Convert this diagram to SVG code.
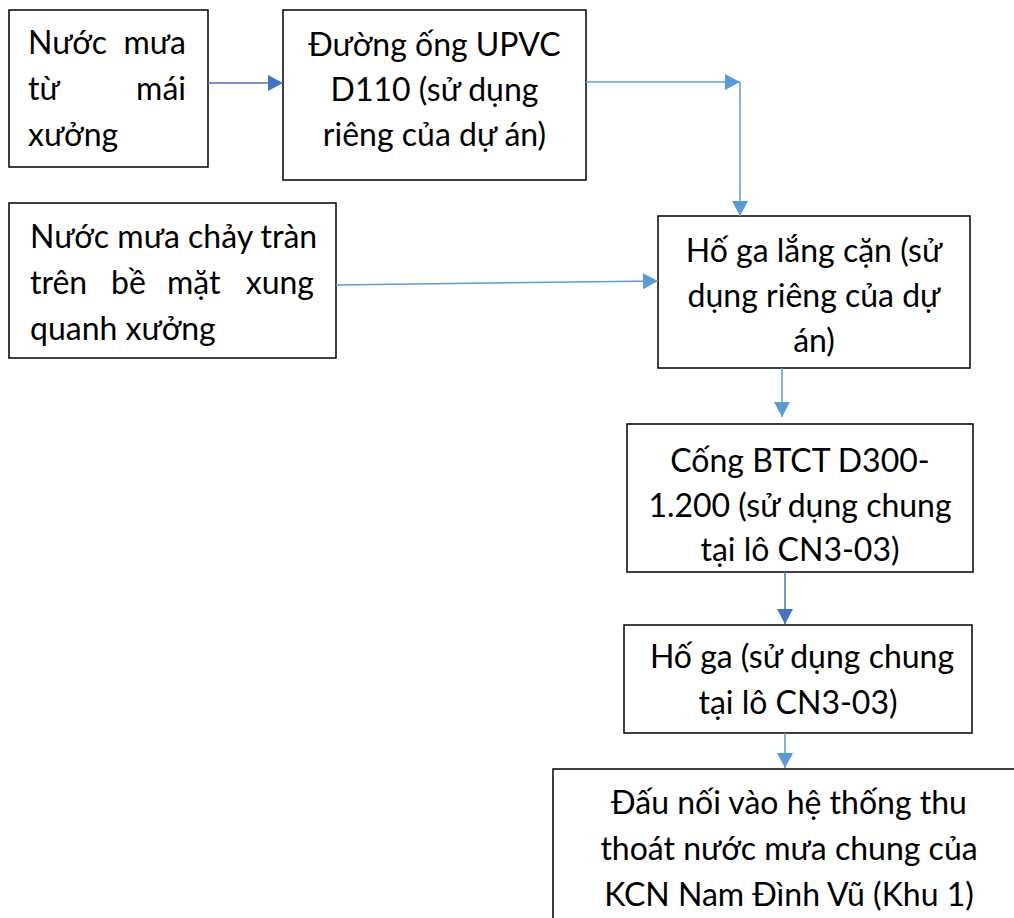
<svg xmlns="http://www.w3.org/2000/svg" width="1014" height="918" viewBox="0 0 1014 918">
<defs>
<marker id="ad" markerUnits="userSpaceOnUse" markerWidth="16" markerHeight="16" refX="15" refY="8" orient="auto"><path d="M0,0 L15,8 L0,16 z" fill="#4472C4"/></marker>
<marker id="al" markerUnits="userSpaceOnUse" markerWidth="16" markerHeight="16" refX="15" refY="8" orient="auto"><path d="M0,0 L15,8 L0,16 z" fill="#5B9BD5"/></marker>
</defs>
<style>
rect{fill:#fff;stroke:#000;stroke-width:1.5}
text{font-family:Lato,"Liberation Sans",sans-serif;font-size:32px;fill:#000}
.c{text-anchor:middle}
.e{text-anchor:end}
.d{stroke:#4472C4;stroke-width:1.5;fill:none}
.l{stroke:#5B9BD5;stroke-width:1.5;fill:none}
</style>
<rect width="1014" height="918" style="fill:#fff;stroke:none"/>
<g id="n1">
<rect x="9" y="10" width="199" height="157"/>
<text x="28" y="54">Nước</text><text x="186" y="54" class="e">mưa</text>
<text x="28" y="100">từ</text><text x="186" y="100" class="e">mái</text>
<text x="28" y="146">xưởng</text>
</g>
<g id="n2">
<rect x="283" y="10" width="303" height="170"/>
<text x="434.5" y="56" class="c">Đường ống UPVC</text>
<text x="434.5" y="101" class="c">D110 (sử dụng</text>
<text x="434.5" y="146" class="c">riêng của dự án)</text>
</g>
<g id="n3">
<rect x="9" y="203" width="327" height="155"/>
<text x="30" y="248">Nước mưa chảy tràn</text>
<text x="30" y="294">trên</text><text x="111" y="294">bề</text><text x="167" y="294">mặt</text><text x="314" y="294" class="e">xung</text>
<text x="30" y="340">quanh xưởng</text>
</g>
<g id="n4">
<rect x="658" y="216" width="312" height="152"/>
<text x="814" y="262" class="c">Hố ga lắng cặn (sử</text>
<text x="814" y="307" class="c">dụng riêng của dự</text>
<text x="814" y="352" class="c">án)</text>
</g>
<g id="n5">
<rect x="627" y="424" width="346" height="148"/>
<text x="800" y="472" class="c">Cống BTCT D300-</text>
<text x="800" y="517" class="c">1.200 (sử dụng chung</text>
<text x="800" y="561" class="c">tại lô CN3-03)</text>
</g>
<g id="n6">
<rect x="624" y="625" width="348" height="108"/>
<text x="802" y="668" class="c">Hố ga (sử dụng chung</text>
<text x="798" y="714" class="c">tại lô CN3-03)</text>
</g>
<g id="n7">
<rect x="553" y="769" width="480" height="170"/>
<text x="789" y="814" class="c">Đấu nối vào hệ thống thu</text>
<text x="789" y="860" class="c">thoát nước mưa chung của</text>
<text x="789" y="906" class="c">KCN Nam Đình Vũ (Khu 1)</text>
</g>
<g id="connectors">
<line x1="208" y1="83" x2="283" y2="83" class="d" marker-end="url(#ad)"/>
<line x1="586" y1="82" x2="740" y2="82" class="l" marker-end="url(#al)"/>
<line x1="740" y1="82" x2="740" y2="216" class="l" marker-end="url(#al)"/>
<line x1="336" y1="285" x2="658" y2="281" class="l" marker-end="url(#al)"/>
<line x1="782" y1="368" x2="782" y2="417" class="l" marker-end="url(#al)"/>
<line x1="785" y1="572" x2="785" y2="624" class="d" marker-end="url(#ad)"/>
<line x1="785" y1="733" x2="785" y2="768" class="l" marker-end="url(#al)"/>
</g>
</svg>
